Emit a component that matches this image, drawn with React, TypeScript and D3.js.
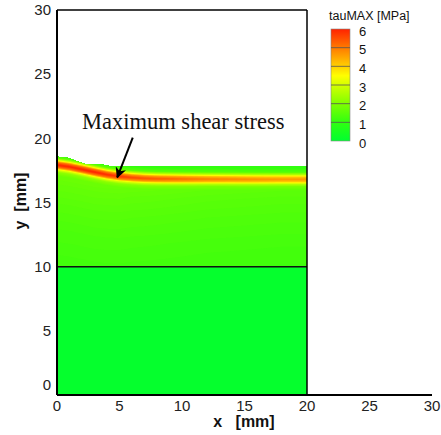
import React, { useMemo } from 'react';
import * as d3 from 'd3';

const X_TICKS = [0, 5, 10, 15, 20, 25, 30];
const Y_TICKS = [0, 5, 10, 15, 20, 25, 30];
const LEGEND_LEVELS = [0, 1, 2, 3, 4, 5, 6];
const COLOR_STOPS = [0, 1, 2, 3, 3.5, 4, 5, 6];
const COLOR_VALUES = ['#00ff30', '#30ff10', '#80ff00', '#d4ff00', '#ffff00', '#ffd000', '#ff7a00', '#ff2200'];

// free-surface (top edge of the body) [mm]
const TOP_X = [0, 0.8, 1.5, 2.2, 3.0, 3.6, 4.2, 20];
const TOP_Y = [18.57, 18.5, 18.25, 18.0, 17.97, 17.95, 17.84, 17.84];
// ridge of maximum shear stress
const BAND_X = [0, 1, 2, 3, 4, 5, 6, 7, 8, 10, 12, 14, 16, 18, 20];
const BAND_Y = [17.92, 17.78, 17.58, 17.37, 17.17, 17.03, 16.94, 16.88, 16.85, 16.83, 16.82, 16.81, 16.8, 16.8, 16.8];
const BAND_PEAK = [6, 6, 6, 6, 5.9, 5.8, 5.6, 5.5, 5.4, 5.2, 5.0, 4.9, 4.8, 4.7, 4.7];
// tauMAX across the ridge (distance below ridge, mm) for a 6 MPa peak
const PROFILE_D = [-0.9, -0.55, -0.35, -0.18, 0, 0.18, 0.35, 0.55, 0.85, 1.5, 3, 5, 8];
const PROFILE_V = [1.0, 1.6, 3.2, 5.1, 6.0, 5.1, 3.3, 2.2, 1.75, 1.65, 1.5, 1.35, 1.2];
const LOWER_VALUE = 0.1;
const INTERFACE_Y = 10;
const BODY_X = [0, 20];

const ANNOT_TEXT = 'Maximum shear stress';
const ANNOT_POS = [2.0, 20.73];
const ARROW_FROM = [6.06, 20.05];
const ARROW_TO = [4.82, 16.95];

const W = 441, H = 435;

export default function App() {
  const x = d3.scaleLinear().domain([0, 30]).range([57, 432]);
  const y = d3.scaleLinear().domain([0, 30]).range([395, 10]);
  const color = d3.scaleLinear<string>().domain(COLOR_STOPS).range(COLOR_VALUES).clamp(true);

  const topS = d3.scaleLinear().domain(TOP_X).range(TOP_Y).clamp(true);
  const bandYS = d3.scaleLinear().domain(BAND_X).range(BAND_Y).clamp(true);
  const bandPS = d3.scaleLinear().domain(BAND_X).range(BAND_PEAK).clamp(true);
  const profS = d3.scaleLinear().domain(PROFILE_D).range(PROFILE_V).clamp(true);

  const dx = 0.1, dy = 0.03;
  const y0 = INTERFACE_Y;
  const nx = Math.round((BODY_X[1] - BODY_X[0]) / dx) + 1;
  const ny = Math.round((18.8 - y0) / dy) + 1;

  const paths = useMemo(() => {
    const vals = new Float64Array(nx * ny);
    for (let j = 0; j < ny; j++) {
      const yy = y0 + j * dy;
      for (let i = 0; i < nx; i++) {
        const xx = BODY_X[0] + i * dx;
        const d = bandYS(xx) - yy;
        const k = (bandPS(xx) - 1) / 5;
        vals[i + j * nx] = 1 + (profS(d) - 1) * k;
      }
    }
    const step = 0.05;
    const thresholds = d3.range(0, 6.05, step);
    const cs = d3.contours().size([nx, ny]).thresholds(thresholds)(Array.from(vals));
    const tr = d3.geoTransform({
      point(px: number, py: number) {
        (this as any).stream.point(x(BODY_X[0] + (px - 0.5) * dx), y(y0 + (py - 0.5) * dy));
      },
    });
    const gp = d3.geoPath(tr);
    return cs.map((c) => ({ d: gp(c as any) || '', fill: color(c.value + step / 2) }));
  }, []);

  const clipPts: [number, number][] = [];
  const tx = d3.range(0, 20.001, 0.2);
  tx.forEach((t) => clipPts.push([x(t), y(topS(t))]));
  clipPts.push([x(BODY_X[1]), y(y0)]);
  clipPts.push([x(BODY_X[0]), y(y0)]);
  const clipD = 'M' + clipPts.map((p) => p.join(',')).join('L') + 'Z';

  const legX = 331, legW = 19, legTop = 29, legBot = 141;
  const legY = d3.scaleLinear().domain([0, 6]).range([legBot, legTop]);

  const font = '"Liberation Sans", Arial, sans-serif';

  return (
    <svg width={W} height={H} style={{ position: 'absolute', left: 0, top: 0, background: '#fff' }}>
      <defs>
        <clipPath id="bodyClip">
          <path d={clipD} />
        </clipPath>
        <linearGradient id="legGrad" x1="0" y1="1" x2="0" y2="0">
          {COLOR_STOPS.map((s, i) => (
            <stop key={i} offset={s / 6} stopColor={COLOR_VALUES[i]} />
          ))}
        </linearGradient>
        <marker id="ah" viewBox="0 0 10 10" refX="9" refY="5" markerWidth="5.5" markerHeight="5.5" orient="auto" markerUnits="strokeWidth">
          <path d="M0,0 L10,5 L0,10 L3,5 Z" fill="#000" />
        </marker>
      </defs>

      {/* lower body */}
      <rect x={x(BODY_X[0])} y={y(INTERFACE_Y)} width={x(BODY_X[1]) - x(BODY_X[0])} height={y(0) - y(INTERFACE_Y)} fill={color(LOWER_VALUE)} />
      {/* upper layer contour */}
      <g clipPath="url(#bodyClip)">
        {paths.map((p, i) => (
          <path key={i} d={p.d} fill={p.fill} stroke="none" />
        ))}
      </g>

      {/* interface line */}
      <line x1={x(BODY_X[0])} x2={x(BODY_X[1])} y1={y(INTERFACE_Y)} y2={y(INTERFACE_Y)} stroke="#111" strokeWidth={1.5} />
      {/* frame */}
      <line x1={x(0)} x2={x(20)} y1={y(30)} y2={y(30)} stroke="#000" strokeWidth={1.5} />
      <line x1={x(20)} x2={x(20)} y1={y(30)} y2={y(0)} stroke="#000" strokeWidth={1.5} />
      <line x1={x(0)} x2={x(0)} y1={y(30)} y2={y(0)} stroke="#000" strokeWidth={2} />
      <line x1={x(0)} x2={x(30)} y1={y(0)} y2={y(0)} stroke="#000" strokeWidth={2} />

      {/* ticks */}
      {X_TICKS.map((t) => (
        <text key={'x' + t} x={x(t)} y={411} textAnchor="middle" fontFamily={font} fontSize={15} fill="#222">{t}</text>
      ))}
      {Y_TICKS.map((t) => (
        <text key={'y' + t} x={51} y={y(t) + (t === 0 ? -10 : 0)} dy="0.35em" textAnchor="end" fontFamily={font} fontSize={15} fill="#222">{t}</text>
      ))}
      <text x={244} y={427} textAnchor="middle" fontFamily={font} fontSize={16} fontWeight="bold" fill="#111" style={{ whiteSpace: 'pre' }}>{'x   [mm]'}</text>
      <text transform={`translate(26,201) rotate(-90)`} textAnchor="middle" fontFamily={font} fontSize={16} fontWeight="bold" fill="#111" style={{ whiteSpace: 'pre' }}>{'y  [mm]'}</text>

      {/* annotation */}
      <text x={x(ANNOT_POS[0])} y={y(ANNOT_POS[1])} fontFamily='"Liberation Serif", "Times New Roman", serif' fontSize={22.5} fill="#111">{ANNOT_TEXT}</text>
      <line x1={x(ARROW_FROM[0])} y1={y(ARROW_FROM[1])} x2={x(ARROW_TO[0])} y2={y(ARROW_TO[1])} stroke="#000" strokeWidth={2} markerEnd="url(#ah)" />

      {/* legend */}
      <text x={329} y={20} fontFamily={font} fontSize={12.5} fill="#111">tauMAX [MPa]</text>
      <rect x={legX} y={legTop} width={legW} height={legBot - legTop} fill="url(#legGrad)" stroke="#888" strokeWidth={0.6} />
      {LEGEND_LEVELS.map((l) => (
        <g key={'l' + l}>
          {l > 0 && l < 6 && <line x1={legX} x2={legX + legW} y1={legY(l)} y2={legY(l)} stroke="#555" strokeWidth={0.8} />}
          <text x={359} y={legY(l) + 2} dy="0.35em" fontFamily={font} fontSize={13} fill="#111">{l}</text>
        </g>
      ))}
    </svg>
  );
}
